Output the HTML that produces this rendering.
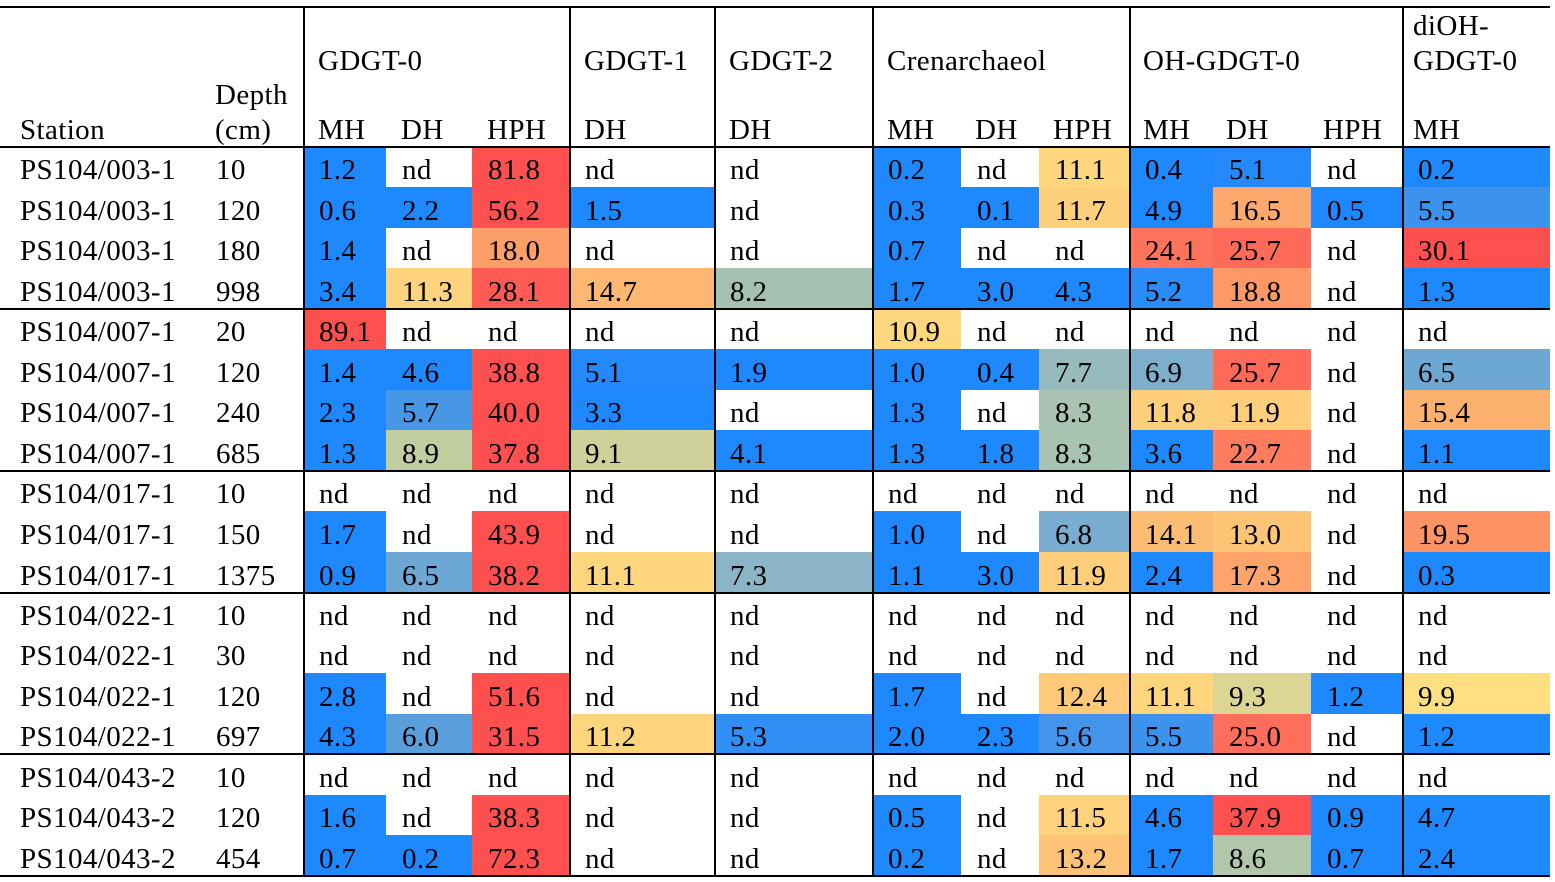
<!DOCTYPE html>
<html><head><meta charset="utf-8"><style>
body{margin:0;background:#fff;width:1555px;height:882px;overflow:hidden;font-family:"Liberation Serif",serif;}
#t{position:relative;width:1555px;height:882px;}
.c{position:absolute;font-size:29px;letter-spacing:0.4px;padding-left:16px;padding-top:7px;box-sizing:border-box;color:#000;white-space:nowrap;}
.c0{padding-left:20px;}
.h{position:absolute;font-size:29px;letter-spacing:0.4px;color:#000;white-space:nowrap;}
.hl{position:absolute;left:0;width:1550px;height:1.5px;background:#000;}
.vl{position:absolute;width:1.5px;background:#000;top:6px;height:870px;}
</style></head><body>
<div id="t"></div>
<script>
const stations=["PS104/003-1","PS104/003-1","PS104/003-1","PS104/003-1","PS104/007-1","PS104/007-1","PS104/007-1","PS104/007-1","PS104/017-1","PS104/017-1","PS104/017-1","PS104/022-1","PS104/022-1","PS104/022-1","PS104/022-1","PS104/043-2","PS104/043-2","PS104/043-2"];
const depths=["10","120","180","998","20","120","240","685","10","150","1375","10","30","120","697","10","120","454"];
const gdgt0MH=["1.2","0.6","1.4","3.4","89.1","1.4","2.3","1.3","nd","1.7","0.9","nd","nd","2.8","4.3","nd","1.6","0.7"];
const gdgt0DH=["nd","2.2","nd","11.3","nd","4.6","5.7","8.9","nd","nd","6.5","nd","nd","nd","6.0","nd","nd","0.2"];
const gdgt0HPH=["81.8","56.2","18.0","28.1","nd","38.8","40.0","37.8","nd","43.9","38.2","nd","nd","51.6","31.5","nd","38.3","72.3"];
const gdgt1DH=["nd","1.5","nd","14.7","nd","5.1","3.3","9.1","nd","nd","11.1","nd","nd","nd","11.2","nd","nd","nd"];
const gdgt2DH=["nd","nd","nd","8.2","nd","1.9","nd","4.1","nd","nd","7.3","nd","nd","nd","5.3","nd","nd","nd"];
const crenMH=["0.2","0.3","0.7","1.7","10.9","1.0","1.3","1.3","nd","1.0","1.1","nd","nd","1.7","2.0","nd","0.5","0.2"];
const crenDH=["nd","0.1","nd","3.0","nd","0.4","nd","1.8","nd","nd","3.0","nd","nd","nd","2.3","nd","nd","nd"];
const crenHPH=["11.1","11.7","nd","4.3","nd","7.7","8.3","8.3","nd","6.8","11.9","nd","nd","12.4","5.6","nd","11.5","13.2"];
const ohMH=["0.4","4.9","24.1","5.2","nd","6.9","11.8","3.6","nd","14.1","2.4","nd","nd","11.1","5.5","nd","4.6","1.7"];
const ohDH=["5.1","16.5","25.7","18.8","nd","25.7","11.9","22.7","nd","13.0","17.3","nd","nd","9.3","25.0","nd","37.9","8.6"];
const ohHPH=["nd","0.5","nd","nd","nd","nd","nd","nd","nd","nd","nd","nd","nd","1.2","nd","nd","0.9","0.7"];
const diohMH=["0.2","5.5","30.1","1.3","nd","6.5","15.4","1.1","nd","19.5","0.3","nd","nd","9.9","1.2","nd","4.7","2.4"];
const cols=[stations,depths,gdgt0MH,gdgt0DH,gdgt0HPH,gdgt1DH,gdgt2DH,crenMH,crenDH,crenHPH,ohMH,ohDH,ohHPH,diohMH];
const colNames=["station","depth","gdgt0-mh","gdgt0-dh","gdgt0-hph","gdgt1-dh","gdgt2-dh","cren-mh","cren-dh","cren-hph","oh-mh","oh-dh","oh-hph","dioh-mh"];
const edges=[0,200,303,386,472,569,714,872,961,1039,1129,1213,1311,1402,1550];
const rowTops=[147,187,228,268,309,349,390,430,471,511,552,593,633,673,714,754,795,835,876];
const stops=[[0,[30,136,255]],[5,[30,136,255]],[6,[90,158,220]],[7.2,[136,180,200]],[8.7,[180,200,168]],[9.8,[255,224,130]],[15,[253,180,112]],[22,[255,128,96]],[30,[255,80,80]],[1000,[255,80,80]]];
function color(v){
  for(let i=0;i<stops.length-1;i++){
    const a=stops[i],b=stops[i+1];
    if(v>=a[0]&&v<=b[0]){const t=(v-a[0])/(b[0]-a[0]);
      const c=a[1].map((x,k)=>Math.round(x+(b[1][k]-x)*t));return `rgb(${c})`;}
  }
  return '#fff';
}
const T=document.getElementById('t');
for(let ci=0;ci<cols.length;ci++){
  for(let r=0;r<18;r++){
    const d=document.createElement('div');
    d.className=ci===0?'c c0':'c';
    
    
    const v=cols[ci][r];
    const h=rowTops[r+1]-rowTops[r];
    d.style.left=edges[ci]+'px';d.style.width=(edges[ci+1]-edges[ci])+'px';
    d.style.top=rowTops[r]+'px';d.style.height=h+'px';
    d.style.lineHeight=(h-7)+'px';
    if(ci>=2&&v!=='nd')d.style.background=color(parseFloat(v));
    d.textContent=v;
    T.appendChild(d);
  }
}
const heads=[["Station",20,114],["Depth",215,79],["(cm)",215,114],["GDGT-0",318,45],["MH",318,114],["DH",401,114],["HPH",487,114],["GDGT-1",584,45],["DH",584,114],["GDGT-2",729,45],["DH",729,114],["Crenarchaeol",887,45],["MH",887,114],["DH",975,114],["HPH",1053,114],["OH-GDGT-0",1143,45],["MH",1143,114],["DH",1226,114],["HPH",1323,114],["diOH-",1413,10],["GDGT-0",1413,45],["MH",1413,114]];
for(const h of heads){
  const d=document.createElement('div');
  d.className='h';
  
  
  d.style.left=h[1]+'px';d.style.top=h[2]+'px';d.textContent=h[0];T.appendChild(d);
}
for(const y of [6,146,308,470,592,753,875]){
  const l=document.createElement('div');l.className='hl';
  
  
  l.style.top=y+'px';T.appendChild(l);
}
for(const x of [303,569,714,872,1129,1402]){
  const l=document.createElement('div');l.className='vl';
  
  
  l.style.left=x+'px';T.appendChild(l);
}
</script>
</body></html>
